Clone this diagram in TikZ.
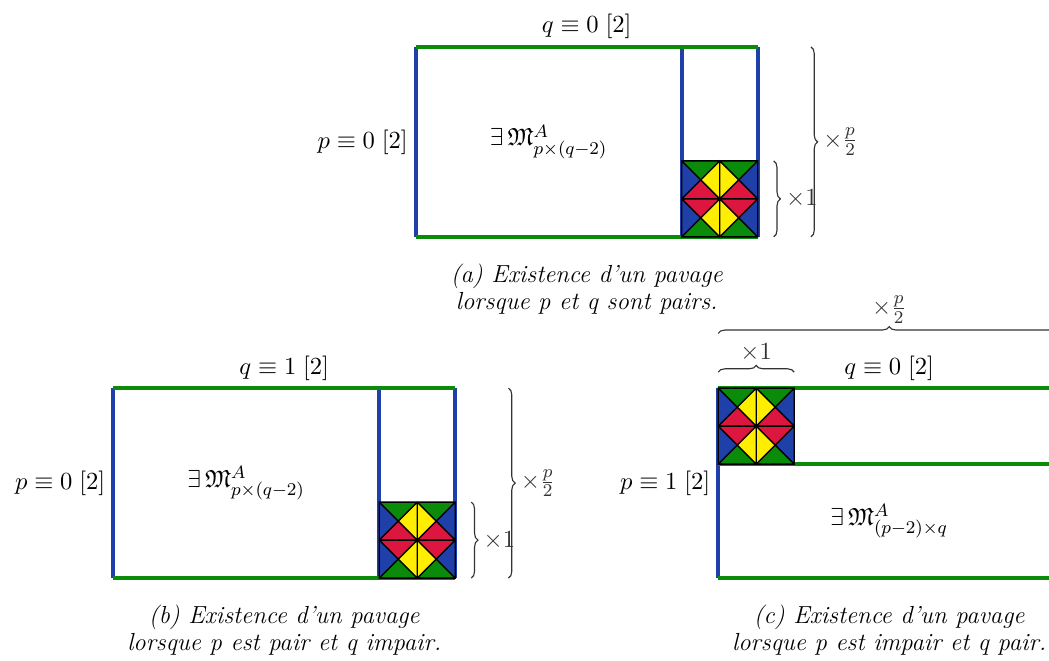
\documentclass[tikz,border=0pt]{standalone}
\usepackage{amsmath}
\usepackage{amssymb}
\usepackage{tikz}
\usetikzlibrary{decorations.pathreplacing}

\definecolor{vert}{RGB}{10,140,10}
\definecolor{bleu}{RGB}{30,64,168}
\definecolor{rouge}{RGB}{220,22,62}
\definecolor{jaune}{RGB}{255,238,0}

\begin{document}
\begin{tikzpicture}[
                x=1.19cm,
                y=1.19cm,
                every node/.style={font=\fontsize{11}{12}\selectfont},
                cote vert/.style={line width=1.8pt, vert},
                cote bleu/.style={line width=1.8pt, bleu},
                accolade/.style={decorate, decoration={brace, amplitude=3pt}, line width=0.5pt, black!80},
                legende/.style={align=center, font=\fontsize{11}{12}\selectfont\itshape, anchor=north},
                tuile/.pic={
                    \foreach \sx/\sy in {1/1, -1/1, 1/-1, -1/-1}{
                        \begin{scope}[xscale=\sx, yscale=\sy]
                            \fill[vert] (-0.5,0.5) -- (0,0.5) -- (-0.25,0.25) -- cycle;
                            \fill[bleu] (-0.5,0.5) -- (-0.5,0) -- (-0.25,0.25) -- cycle;
                            \fill[jaune] (0,0.5) -- (0,0) -- (-0.25,0.25) -- cycle;
                            \fill[rouge] (-0.5,0) -- (0,0) -- (-0.25,0.25) -- cycle;
                        \end{scope}
                    }
                    \draw[line width=0.6pt] (-0.5,-0.5) rectangle (0.5,0.5)
                        (-0.5,-0.5) -- (0.5,0.5) (-0.5,0.5) -- (0.5,-0.5)
                        (0,-0.5) -- (0,0.5) (-0.5,0) -- (0.5,0)
                        (0,0.5) -- (0.5,0) -- (0,-0.5) -- (-0.5,0) -- cycle;
                }
            ]

            \useasboundingbox (0,0) rectangle (13.803,8.697);
            \clip (0,0) rectangle (13.803,8.697);

            \begin{scope}[shift={(5.47,5.58)}]
                \draw[cote bleu] (0,0) -- (0,2.5);
                \draw[cote bleu] (3.5,0) -- (3.5,2.5);
                \draw[cote bleu] (4.5,0) -- (4.5,2.5);
                \draw[cote vert] (0,2.5) -- (4.5,2.5);
                \draw[cote vert] (0,0) -- (4.5,0);
                \pic at (4,0.5) {tuile};
                \node[above] (qa) at (2.25,2.5) {$q \equiv 0\;[2]$};
                \node[left] (pa) at (0,1.25) {$p \equiv 0\;[2]$};
                \node (ma) at (1.75,1.25) {$\exists\,\mathfrak{M}^{A}_{p\times(q-2)}$};
                \draw[accolade] (4.71,1) -- (4.71,0) node[midway, right=2pt] (una) {$\times1$};
                \draw[accolade] (5.2,2.5) -- (5.2,0) node[midway, right=2pt] (pdemia) {$\times\frac{p}{2}$};
                \node[legende] (capa) at (2.25,-0.25) {(a) Existence d'un pavage\\lorsque p et q sont pairs.};
            \end{scope}

            \begin{scope}[shift={(1.49,1.09)}]
                \draw[cote bleu] (0,0) -- (0,2.5);
                \draw[cote bleu] (3.5,0) -- (3.5,2.5);
                \draw[cote bleu] (4.5,0) -- (4.5,2.5);
                \draw[cote vert] (0,2.5) -- (4.5,2.5);
                \draw[cote vert] (0,0) -- (4.5,0);
                \pic at (4,0.5) {tuile};
                \node[above] (qb) at (2.25,2.5) {$q \equiv 1\;[2]$};
                \node[left] (pb) at (0,1.25) {$p \equiv 0\;[2]$};
                \node (mb) at (1.75,1.25) {$\exists\,\mathfrak{M}^{A}_{p\times(q-2)}$};
                \draw[accolade] (4.71,1) -- (4.71,0) node[midway, right=2pt] (unb) {$\times1$};
                \draw[accolade] (5.2,2.5) -- (5.2,0) node[midway, right=2pt] (pdemib) {$\times\frac{p}{2}$};
                \node[legende] (capb) at (2.25,-0.25) {(b) Existence d'un pavage\\lorsque p est pair et q impair.};
            \end{scope}

            \begin{scope}[shift={(9.45,1.09)}]
                \draw[cote bleu] (0,0) -- (0,2.5);
                \draw[cote vert] (0,2.5) -- (4.5,2.5);
                \draw[cote vert] (0,1.5) -- (4.5,1.5);
                \draw[cote vert] (0,0) -- (4.5,0);
                \pic at (0.5,2) {tuile};
                \node[above] (qc) at (2.25,2.5) {$q \equiv 0\;[2]$};
                \node[left] (pc) at (0,1.25) {$p \equiv 1\;[2]$};
                \node (mc) at (2.25,0.75) {$\exists\,\mathfrak{M}^{A}_{(p-2)\times q}$};
                \draw[accolade] (0,2.71) -- (1,2.71) node[midway, above=1pt] (unc) {$\times1$};
                \draw[accolade] (0,3.22) -- (4.5,3.22) node[midway, above=1pt] (pdemic) {$\times\frac{p}{2}$};
                \node[legende] (capc) at (2.25,-0.25) {(c) Existence d'un pavage\\lorsque p est impair et q pair.};
            \end{scope}

            \end{tikzpicture}
\end{document}
